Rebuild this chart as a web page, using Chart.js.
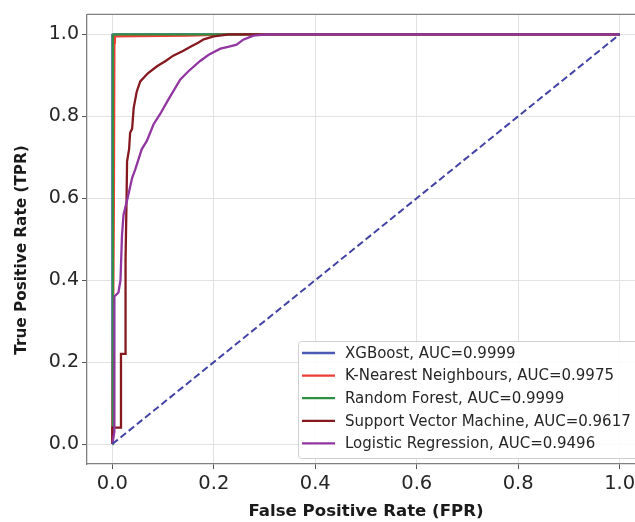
<!DOCTYPE html>
<html>
<head>
<meta charset="utf-8">
<script src="https://cdn.jsdelivr.net/npm/chart.js@4.4.1/dist/chart.umd.min.js"></script>
<style>
  html, body { margin: 0; padding: 0; background: #fff; overflow: hidden; }
  canvas { display: block; }
</style>
</head>
<body>
<!-- the figure is cut off on the right, so the canvas is wider than the window -->
<canvas id="roc" width="660" height="522"></canvas>
<script>
// ROC curve points (FPR, TPR)
const xgbFpr = [0, 0, 0.002, 1];
const xgbTpr = [0, 0.999, 1, 1];
const knnFpr = [0, 0.003, 0.004, 0.005, 0.05, 0.15, 0.23, 1];
const knnTpr = [0, 0.6, 0.98, 0.995, 0.996, 0.997, 1, 1];
const rfFpr = [0, 0.001, 0.01, 1];
const rfTpr = [0, 0.999, 1, 1];
const svmFpr = [0, 0, 0.017, 0.017, 0.026, 0.026, 0.028, 0.029, 0.033, 0.035, 0.039, 0.042, 0.045, 0.048, 0.055, 0.07, 0.088, 0.105, 0.12, 0.14, 0.154, 0.17, 0.18, 0.2, 0.23, 1];
const svmTpr = [0, 0.04, 0.04, 0.22, 0.22, 0.45, 0.6, 0.69, 0.72, 0.76, 0.77, 0.82, 0.84, 0.86, 0.885, 0.905, 0.922, 0.935, 0.948, 0.96, 0.97, 0.98, 0.988, 0.995, 1, 1];
const lrFpr = [0, 0.004, 0.004, 0.012, 0.016, 0.019, 0.022, 0.03, 0.039, 0.045, 0.058, 0.068, 0.081, 0.094, 0.11, 0.134, 0.15, 0.173, 0.19, 0.213, 0.23, 0.245, 0.258, 0.278, 0.305, 1];
const lrTpr = [0, 0.03, 0.36, 0.37, 0.4, 0.51, 0.56, 0.6, 0.65, 0.67, 0.72, 0.74, 0.78, 0.805, 0.84, 0.89, 0.91, 0.935, 0.95, 0.965, 0.97, 0.975, 0.987, 0.997, 1, 1];
const chanceFpr = [0, 1];
const chanceTpr = [0, 1];

const modelNames = ["XGBoost", "K-Nearest Neighbours", "Random Forest", "Support Vector Machine", "Logistic Regression"];
const aucValues = ["0.9999", "0.9975", "0.9999", "0.9617", "0.9496"];
const modelColors = ["#4b5bb5", "#ee3d35", "#2f8f45", "#85191f", "#9136a0"];
const tickValues = [0, 0.2, 0.4, 0.6, 0.8, 1.0];

const curves = [
  [xgbFpr, xgbTpr],
  [knnFpr, knnTpr],
  [rfFpr, rfTpr],
  [svmFpr, svmTpr],
  [lrFpr, lrTpr],
];

const toPoints = (xs, ys) => xs.map((x, i) => ({ x: x, y: ys[i] }));

// chart.js draws the first dataset on top, so put the dashed line first, then reverse the models
const datasets = [
  {
    label: "chance",
    data: toPoints(chanceFpr, chanceTpr),
    borderColor: "#4343a6",
    borderWidth: 2,
    borderDash: [7, 3.5],
  },
];
for (let i = curves.length - 1; i >= 0; i--) {
  datasets.push({
    label: modelNames[i] + ", AUC=" + aucValues[i],
    data: toPoints(curves[i][0], curves[i][1]),
    borderColor: modelColors[i],
    borderWidth: 2.3,
  });
}

const frameAndLegend = {
  id: "frameAndLegend",
  afterDraw(chart) {
    const ctx = chart.ctx;
    const a = chart.chartArea;
    ctx.save();
    // top and right spines
    ctx.strokeStyle = "#808080";
    ctx.lineWidth = 1.3;
    ctx.beginPath();
    ctx.moveTo(a.left, a.top);
    ctx.lineTo(a.right, a.top);
    ctx.lineTo(a.right, a.bottom);
    ctx.stroke();

    // y axis title, a little below the middle as in the picture
    ctx.save();
    ctx.translate(22, 250);
    ctx.rotate(-Math.PI / 2);
    ctx.font = "bold 15.3px 'DejaVu Sans'";
    ctx.fillStyle = "#1a1a1a";
    ctx.textAlign = "center";
    ctx.textBaseline = "middle";
    ctx.fillText("True Positive Rate (TPR)", 0, 0);
    ctx.restore();

    // legend box
    const bx = 298, by = 341, bw = 345, bh = 117;
    ctx.fillStyle = "rgba(255,255,255,0.85)";
    ctx.strokeStyle = "#d0d0d0";
    ctx.lineWidth = 1;
    ctx.beginPath();
    ctx.roundRect(bx + 0.5, by + 0.5, bw, bh, 3);
    ctx.fill();
    ctx.stroke();

    ctx.font = "15px 'DejaVu Sans'";
    ctx.textBaseline = "middle";
    ctx.textAlign = "left";
    modelNames.forEach((name, i) => {
      const y = 353 + i * 22.6;
      ctx.strokeStyle = modelColors[i];
      ctx.lineWidth = 2.3;
      ctx.beginPath();
      ctx.moveTo(302, y);
      ctx.lineTo(335, y);
      ctx.stroke();
      ctx.fillStyle = "#262626";
      ctx.fillText(name + ", AUC=" + aucValues[i], 345, y + 1);
    });
    ctx.restore();
  },
};

const fixedTicks = (scale) => {
  scale.ticks = tickValues.map((v) => ({ value: v }));
};

new Chart(document.querySelector("#roc"), {
  type: "line",
  data: { datasets: datasets },
  options: {
    responsive: false,
    animation: false,
    elements: {
      point: { radius: 0 },
      line: { tension: 0, fill: false },
    },
    layout: { padding: { top: 13, right: 15, left: 0, bottom: 0 } },
    scales: {
      x: {
        type: "linear",
        min: -0.05,
        max: 1.05,
        afterBuildTicks: fixedTicks,
        afterFit: (scale) => { scale.height = 58; },
        grid: { color: "#e2e2e2", lineWidth: 1, tickLength: 5, tickColor: "#555" },
        border: { color: "#808080", width: 1.3 },
        ticks: {
          padding: 3,
          color: "#262626",
          font: { family: "DejaVu Sans", size: 19.5 },
          maxRotation: 0,
          callback: (v) => v.toFixed(1),
        },
        title: {
          display: true,
          text: "False Positive Rate (FPR)",
          color: "#1a1a1a",
          font: { family: "DejaVu Sans", size: 16.6, weight: "bold" },
          padding: { top: 0, bottom: 0.5 },
        },
      },
      y: {
        type: "linear",
        min: -0.0487,
        max: 1.0487,
        afterBuildTicks: fixedTicks,
        afterFit: (scale) => { scale.width = 87; },
        grid: { color: "#e2e2e2", lineWidth: 1, tickLength: 5, tickColor: "#555" },
        border: { color: "#808080", width: 1.3 },
        ticks: {
          padding: 3,
          color: "#262626",
          font: { family: "DejaVu Sans", size: 19 },
          callback: (v) => v.toFixed(1),
        },
        title: { display: false },
      },
    },
    plugins: {
      legend: { display: false },
      tooltip: { enabled: false },
    },
  },
  plugins: [frameAndLegend],
});
</script>
</body>
</html>
